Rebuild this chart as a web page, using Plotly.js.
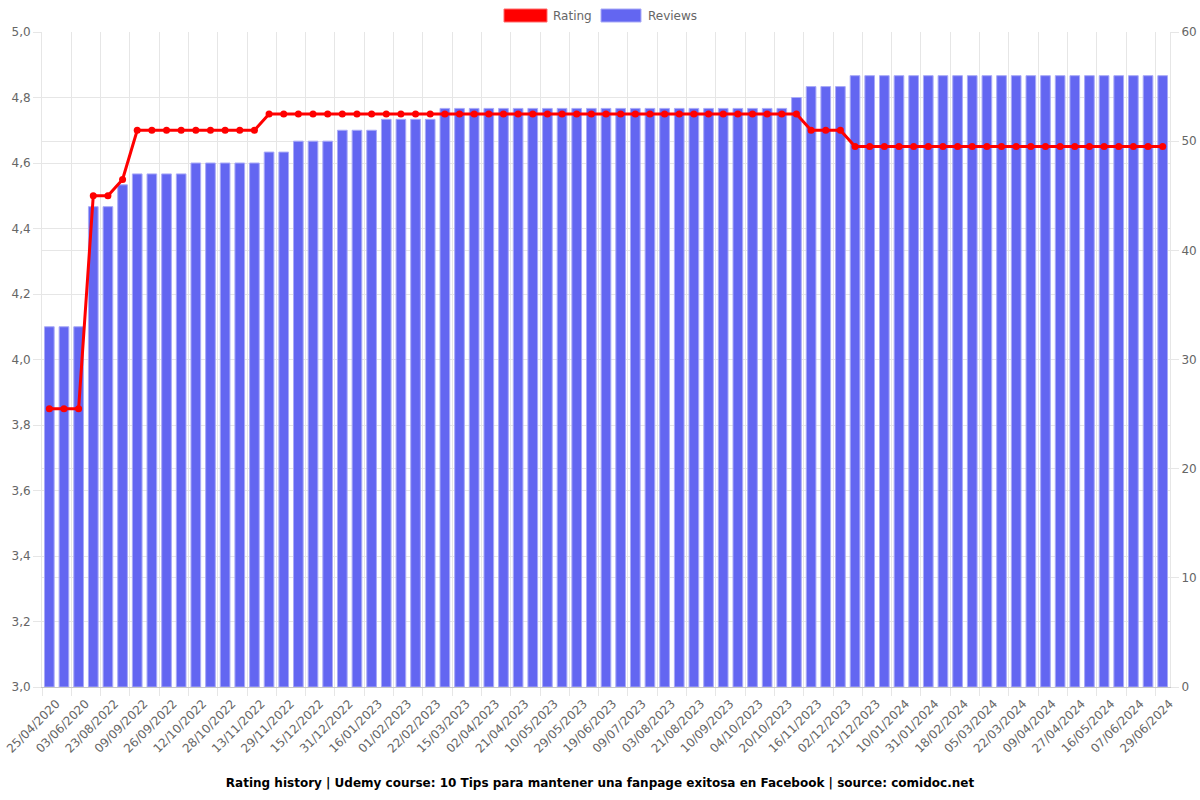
<!DOCTYPE html>
<html>
<head>
<meta charset="utf-8">
<script src="https://cdn.plot.ly/plotly-3.0.1.min.js"></script>
<style>html,body{margin:0;padding:0;background:#fff;}#chart{width:1200px;height:800px;}</style>
</head>
<body>
<div id="chart"></div>
<script>
const dates = [
  "25/04/2020","13/05/2020","03/06/2020","05/08/2022","23/08/2022","01/09/2022","09/09/2022","17/09/2022",
  "26/09/2022","04/10/2022","12/10/2022","20/10/2022","28/10/2022","05/11/2022","13/11/2022","21/11/2022",
  "29/11/2022","07/12/2022","15/12/2022","23/12/2022","31/12/2022","08/01/2023","16/01/2023","24/01/2023",
  "01/02/2023","11/02/2023","22/02/2023","05/03/2023","15/03/2023","24/03/2023","02/04/2023","11/04/2023",
  "21/04/2023","30/04/2023","10/05/2023","19/05/2023","29/05/2023","08/06/2023","19/06/2023","29/06/2023",
  "09/07/2023","21/07/2023","03/08/2023","12/08/2023","21/08/2023","31/08/2023","10/09/2023","22/09/2023",
  "04/10/2023","12/10/2023","20/10/2023","03/11/2023","16/11/2023","24/11/2023","02/12/2023","11/12/2023",
  "21/12/2023","31/12/2023","10/01/2024","20/01/2024","31/01/2024","09/02/2024","18/02/2024","26/02/2024",
  "05/03/2024","13/03/2024","22/03/2024","31/03/2024","09/04/2024","18/04/2024","27/04/2024","06/05/2024",
  "16/05/2024","27/05/2024","07/06/2024","18/06/2024","29/06/2024"
];

const rating = [
  3.85,3.85,3.85,4.5,4.5,4.55,
  4.7,4.7,4.7,4.7,4.7,4.7,4.7,4.7,4.7,
  4.75,4.75,4.75,4.75,4.75,4.75,4.75,4.75,4.75,4.75,
  4.75,4.75,4.75,4.75,4.75,4.75,4.75,4.75,4.75,4.75,
  4.75,4.75,4.75,4.75,4.75,4.75,4.75,4.75,4.75,4.75,
  4.75,4.75,4.75,4.75,4.75,4.75,4.75,
  4.7,4.7,4.7,
  4.65,4.65,4.65,4.65,4.65,4.65,4.65,4.65,4.65,4.65,4.65,
  4.65,4.65,4.65,4.65,4.65,4.65,4.65,4.65,4.65,4.65,4.65
];

const reviews = [
  33,33,33,44,44,46,
  47,47,47,47,
  48,48,48,48,48,
  49,49,
  50,50,50,
  51,51,51,
  52,52,52,52,
  53,53,53,53,53,53,53,53,53,53,53,53,53,53,53,53,53,53,53,53,53,53,53,53,
  54,
  55,55,55,
  56,56,56,56,56,56,56,56,56,56,56,56,56,56,56,56,56,56,56,56,56,56
];

const titleText = "Rating history | Udemy course: 10 Tips para mantener una fanpage exitosa en Facebook | source: comidoc.net";
const legendNames = ["Rating", "Reviews"];

const FONT = "DejaVu Sans, Verdana, sans-serif";
const GRID = "#e6e6e6";
const TICKC = "#666666";

const barTrace = {
  type: "bar",
  x: dates,
  y: reviews,
  name: legendNames[1],
  yaxis: "y",
  width: 0.66,
  marker: { color: "#6366f1", line: { color: "#a9aaf7", width: 1 } },
  hoverinfo: "x+y"
};

const lineTrace = {
  type: "scatter",
  mode: "lines+markers",
  x: dates,
  y: rating,
  name: legendNames[0],
  yaxis: "y2",
  line: { color: "#ff0000", width: 3 },
  marker: { color: "#ff0000", size: 7 },
  hoverinfo: "x+y"
};

const L = 42, R = 30, T = 32, B = 113, W = 1200, H = 800;
const pw = W - L - R, ph = H - T - B;
const px = v => (v - L) / pw;
const py = v => (H - B - v) / ph;

const layout = {
  width: W, height: H,
  margin: { l: L, r: R, t: T, b: B, pad: 0 },
  paper_bgcolor: "#ffffff",
  plot_bgcolor: "#ffffff",
  separators: ",.",
  showlegend: false,
  font: { family: FONT, size: 12, color: TICKC },
  title: {
    text: titleText,
    font: { family: FONT, size: 12, color: "#000000", weight: "bold" },
    x: 0.5, xanchor: "center",
    y: 1 - 783 / 800, yref: "container", yanchor: "middle"
  },
  xaxis: {
    type: "category",
    tickmode: "linear", tick0: 0, dtick: 2,
    tickson: "boundaries",
    tickangle: -45,
    ticklabelshift: 7,
    ticklabelstandoff: 4,
    ticks: "outside", ticklen: 8, tickcolor: GRID,
    showgrid: true, gridcolor: GRID, gridwidth: 1,
    showline: true, linecolor: "#c8c8c8", linewidth: 1,
    tickfont: { family: FONT, size: 12, color: TICKC },
    range: [-0.5, dates.length - 0.5],
    fixedrange: true
  },
  yaxis: {
    side: "right",
    range: [0, 60],
    tickmode: "linear", tick0: 0, dtick: 10,
    ticks: "outside", ticklen: 8, tickcolor: GRID,
    showgrid: true, gridcolor: GRID,
    showline: true, linecolor: GRID,
    zeroline: false,
    tickfont: { family: FONT, size: 12, color: TICKC }
  },
  yaxis2: {
    overlaying: "y",
    side: "left",
    range: [3, 5],
    tickmode: "linear", tick0: 3, dtick: 0.2,
    tickformat: ".1f",
    ticks: "outside", ticklen: 8, tickcolor: GRID,
    showgrid: true, gridcolor: GRID,
    showline: true, linecolor: GRID,
    zeroline: false,
    tickfont: { family: FONT, size: 12, color: TICKC }
  },
  shapes: [
    { type: "rect", xref: "paper", yref: "paper",
      x0: px(504), x1: px(547), y0: py(22), y1: py(9),
      fillcolor: "#ff0000", line: { color: "#ff6a6a", width: 1 } },
    { type: "rect", xref: "paper", yref: "paper",
      x0: px(601), x1: px(641), y0: py(22), y1: py(9),
      fillcolor: "#6366f1", line: { color: "#a9aaf7", width: 1 } }
  ],
  annotations: [
    { xref: "paper", yref: "paper", x: px(551), y: py(16), xanchor: "left", yanchor: "middle",
      text: legendNames[0], showarrow: false, font: { family: FONT, size: 12, color: TICKC } },
    { xref: "paper", yref: "paper", x: px(646), y: py(16), xanchor: "left", yanchor: "middle",
      text: legendNames[1], showarrow: false, font: { family: FONT, size: 12, color: TICKC } }
  ]
};

Plotly.newPlot("chart", [barTrace, lineTrace], layout, { staticPlot: true, displayModeBar: false });
</script>
</body>
</html>
